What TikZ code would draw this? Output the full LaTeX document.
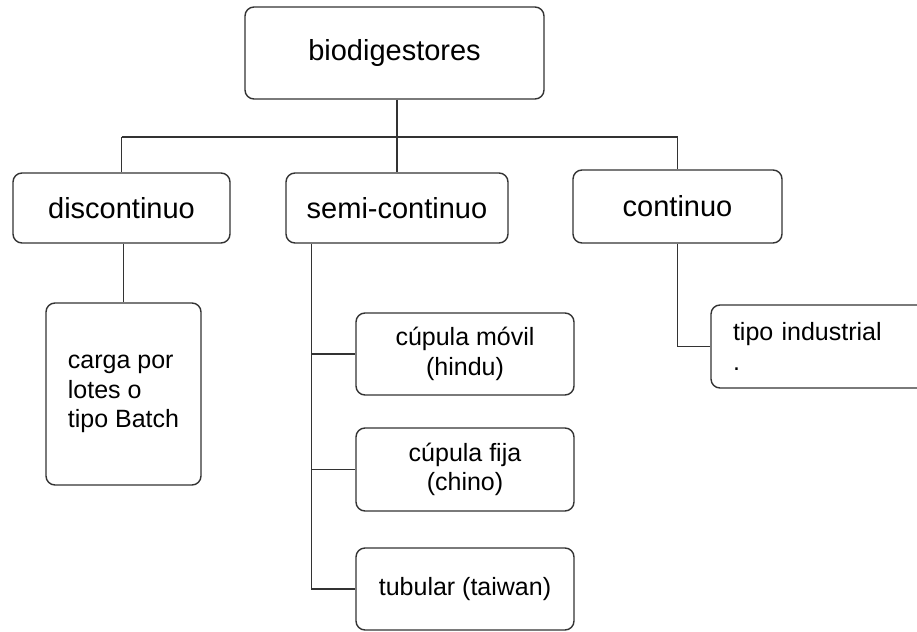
\documentclass[tikz,border=0pt]{standalone}
\usepackage{fontspec}
\setmainfont{Liberation Sans}
\begin{document}
\begin{tikzpicture}[x=1pt,y=-1pt,line width=1.4pt,draw=black!80,
  bigbox/.style={draw=black!80,rounded corners=9pt,inner sep=0pt,font=\fontsize{29}{34}\selectfont},
  smallbox/.style={draw=black!80,rounded corners=9pt,inner sep=0pt,align=center,font=\fontsize{25}{29.5}\selectfont}]
\useasboundingbox (0,0) rectangle (917,631);
\clip (0,0) rectangle (917,631);
\node[bigbox,minimum width=299pt,minimum height=92pt] (bio) at (394.5,53) {biodigestores};
\node[bigbox,minimum width=217pt,minimum height=70pt] (disc) at (121.5,208) {discontinuo};
\node[bigbox,minimum width=222pt,minimum height=70pt] (semi) at (397,208) {semi-continuo};
\node[bigbox,minimum width=209pt,minimum height=73pt] (cont) at (677.5,206.5) {continuo};
\node[smallbox,align=left,minimum width=155pt,minimum height=182pt] (carga) at (123.5,394) {carga por\\lotes o\\tipo Batch};
\node[smallbox,minimum width=218pt,minimum height=82pt] (movil) at (465,354) {cúpula móvil\\(hindu)};
\node[smallbox,minimum width=218pt,minimum height=83pt] (fija) at (465,469.5) {cúpula fija\\(chino)};
\node[smallbox,minimum width=218pt,minimum height=82pt] (tubular) at (465,589) {tubular (taiwan)};
\node[smallbox,align=left,inner xsep=22pt,text width=205pt,minimum height=83pt] (indus) at (835.5,346.5) {tipo industrial\\.};
% arbol superior
\coordinate (bus) at (0,137);
\draw (semi.north |- bio.south) -- (semi.north);
\draw (disc.north |- bus) -- (cont.north |- bus);
\draw (disc.north |- bus) -- (disc.north);
\draw (cont.north |- bus) -- (cont.north);
% ramas
\draw (carga.north |- disc.south) -- (carga.north);
\coordinate (trunk) at ([xshift=26pt]semi.south west);
\draw (trunk) |- (tubular.west);
\draw (trunk |- movil.west) -- (movil.west);
\draw (trunk |- fija.west) -- (fija.west);
\draw (cont.south) |- (indus.west);
\end{tikzpicture}
\end{document}
